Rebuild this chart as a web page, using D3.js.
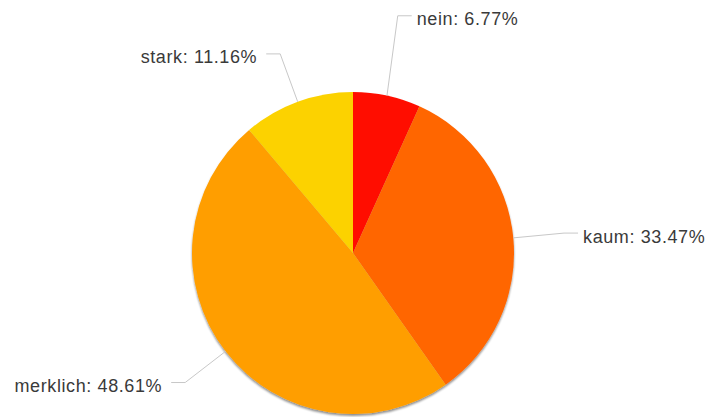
<!DOCTYPE html>
<html>
<head>
<meta charset="utf-8">
<script src="https://cdn.jsdelivr.net/npm/d3@7"></script>
<style>
  html, body { margin: 0; padding: 0; background: #fff; }
  svg { display: block; }
  .lbl { font-family: "Liberation Sans", Arial, sans-serif; font-size: 18px; letter-spacing: 0.6px; fill: #3a3a3a; }
  .tick { fill: none; stroke: #c8c8c8; stroke-width: 1; }
</style>
</head>
<body>
<svg id="chart" width="712" height="417"></svg>
<script>
// Survey answers and their shares (percent)
const categories = ["nein", "kaum", "merklich", "stark"];
const shares = [6.77, 33.47, 48.61, 11.16];
const colors = ["#FF0F00", "#FF6600", "#FF9E01", "#FCD202"];

const width = 712, height = 417;
const cx = 353, cy = 253, radius = 161;
const labelGap = 51;       // distance of the label elbow outside the pie
const tickLen = 14;        // horizontal part of the label line
const textPad = { left: 9, right: 5 };
// vertical shift of individual labels to keep them clear of the pie top
const labelShift = { nein: -30 };

const data = categories.map((c, i) => ({ name: c, value: shares[i], color: colors[i] }));

const svg = d3.select("#chart");

const defs = svg.append("defs");
const f = defs.append("filter").attr("id", "shadow")
  .attr("x", "-10%").attr("y", "-10%").attr("width", "120%").attr("height", "120%");
f.append("feGaussianBlur").attr("in", "SourceAlpha").attr("stdDeviation", 1.2).attr("result", "b");
f.append("feOffset").attr("in", "b").attr("dy", 1.5).attr("result", "o");
f.append("feComponentTransfer").attr("in", "o").attr("result", "s")
  .append("feFuncA").attr("type", "linear").attr("slope", 0.45);
const m = f.append("feMerge");
m.append("feMergeNode").attr("in", "s");
m.append("feMergeNode").attr("in", "SourceGraphic");

const pie = d3.pie().sort(null).value(d => d.value);
const arc = d3.arc().innerRadius(0).outerRadius(radius);
const arcs = pie(data);

const g = svg.append("g").attr("transform", `translate(${cx},${cy})`);

g.append("g").attr("filter", "url(#shadow)")
  .selectAll("path").data(arcs).join("path")
  .attr("d", arc)
  .attr("fill", d => d.data.color);

const labels = svg.append("g").attr("transform", `translate(${cx},${cy})`);

arcs.forEach(a => {
  const mid = (a.startAngle + a.endAngle) / 2;
  const sx = Math.sin(mid), sy = -Math.cos(mid);
  const p0 = [radius * sx, radius * sy];
  const ex = (radius + labelGap) * sx;
  const ey = (radius + labelGap) * sy + (labelShift[a.data.name] || 0);
  const right = sx >= 0;
  const dir = right ? 1 : -1;
  const p2 = [ex + dir * tickLen, ey];

  labels.append("polyline").attr("class", "tick")
    .attr("points", [p0, [ex, ey], p2].map(p => p.join(",")).join(" "));

  labels.append("text").attr("class", "lbl")
    .attr("x", p2[0] + dir * (right ? textPad.right : textPad.left))
    .attr("y", ey + 9.5)
    .attr("text-anchor", right ? "start" : "end")
    .text(`${a.data.name}: ${d3.format(".2f")(a.data.value)}%`);
});
</script>
</body>
</html>
